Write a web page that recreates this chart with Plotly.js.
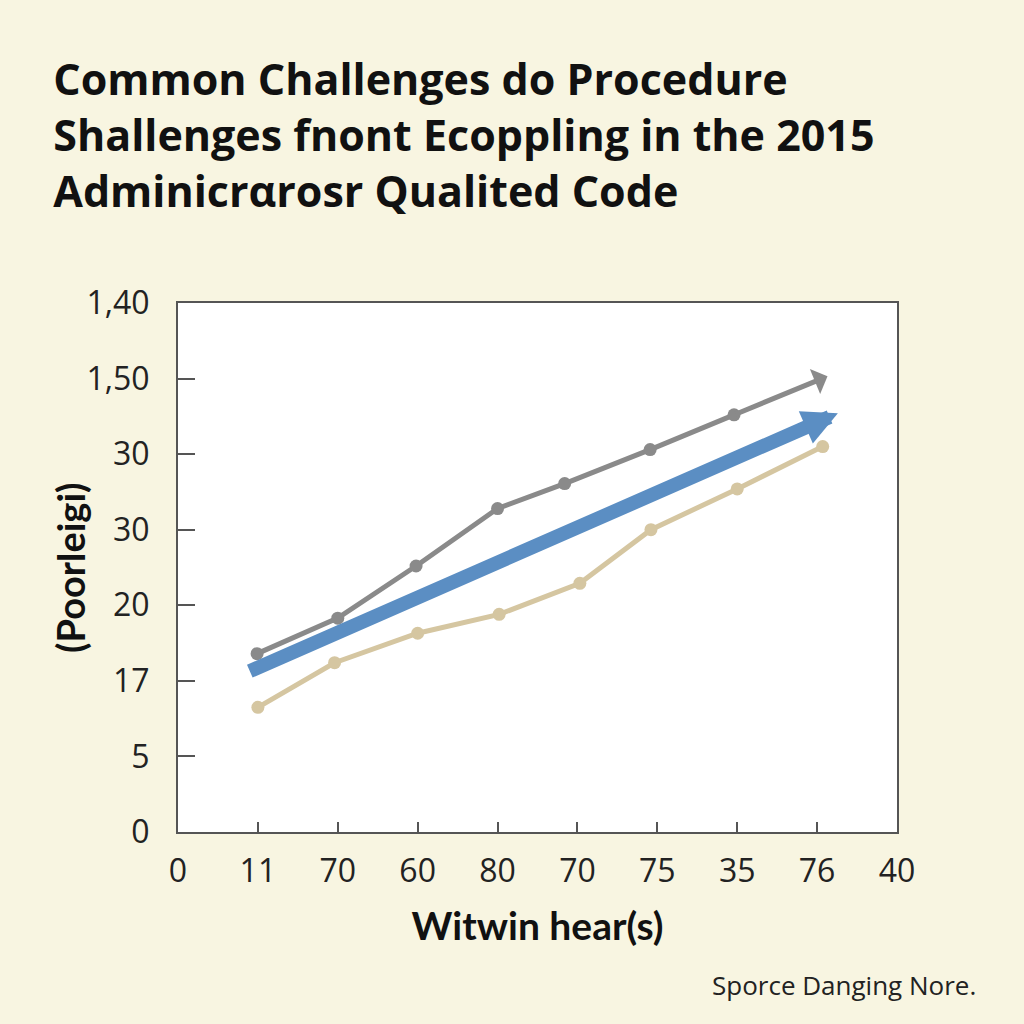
<!DOCTYPE html>
<html>
<head>
<meta charset="utf-8">
<script src="https://cdn.plot.ly/plotly-3.0.1.min.js"></script>
<style>
  html, body { margin: 0; padding: 0; background: #f8f5e1; }
  #plot { width: 1024px; height: 1024px; }
</style>
</head>
<body>
<div id="plot"></div>
<script>
// tick labels as printed on the chart
let xTickVals = [0, 1, 2, 3, 4, 5, 6, 7, 8, 9];
let xTickText = ["0", "11", "70", "60", "80", "70", "75", "35", "76", "40"];
let yTickVals = [0, 1, 2, 3, 4, 5, 6, 7];
let yTickText = ["0", "5", "17", "20", "30", "30", "1,50", "1,40"];

// gray series (ends in an arrow)
let grayX = [0.99, 2.0, 2.98, 4.0, 4.84, 5.91, 6.96];
let grayY = [2.36, 2.83, 3.52, 4.28, 4.61, 5.06, 5.52];
let grayArrowEnd = [8.13, 6.03];

// tan series
let tanX = [1.0, 1.96, 3.0, 4.02, 5.03, 5.92, 7.0, 8.07];
let tanY = [1.65, 2.24, 2.63, 2.88, 3.29, 4.0, 4.54, 5.1];

// blue trend arrow (start, end)
let blueX = [0.88, 8.26];
let blueY = [2.12, 5.54];

let grayColor = "#8a8a8a";
let tanColor = "#d5c6a1";
let blueColor = "#5b8ec3";

let grayTrace = {
    x: grayX,
    y: grayY,
    mode: "lines+markers",
    line: { color: grayColor, width: 5 },
    marker: { color: grayColor, size: 13 },
    hoverinfo: "skip"
};

let tanTrace = {
    x: tanX,
    y: tanY,
    mode: "lines+markers",
    line: { color: tanColor, width: 5 },
    marker: { color: tanColor, size: 13 },
    hoverinfo: "skip"
};

let data = [tanTrace, grayTrace];

let layout = {
    width: 1024,
    height: 1024,
    paper_bgcolor: "#f8f5e1",
    plot_bgcolor: "#ffffff",
    showlegend: false,
    margin: { l: 178, r: 127, t: 303, b: 192, pad: 0 },
    title: {
        text: "Common Challenges do Procedure<br>Shallenges fnont Ecoppling in the 2015<br>Adminicrαrosr Qualited Code",
        font: { family: "Open Sans", size: 43, color: "#111111", weight: 700 },
        xref: "container",
        yref: "container",
        x: 0.052,
        xanchor: "left",
        y: 0.907,
        yanchor: "middle"
    },
    xaxis: {
        range: [0, 9],
        tickmode: "array",
        tickvals: xTickVals,
        ticktext: xTickText,
        ticks: "inside",
        ticklen: 10,
        tickwidth: 2,
        tickcolor: "#555555",
        ticklabelstandoff: 10,
        tickfont: { family: "Open Sans", size: 32, color: "#222222" },
        showgrid: false,
        zeroline: false,
        showline: true,
        mirror: true,
        linecolor: "#555555",
        linewidth: 2,
        title: {
            text: "Witwin hear(s)",
            font: { family: "Lato", size: 39, color: "#111111", weight: 700 },
            standoff: 22
        }
    },
    yaxis: {
        range: [0, 7],
        tickmode: "array",
        tickvals: yTickVals,
        ticktext: yTickText,
        ticks: "inside",
        ticklen: 17,
        tickwidth: 2,
        tickcolor: "#555555",
        ticklabelstandoff: 20,
        tickfont: { family: "Open Sans", size: 32, color: "#222222" },
        showgrid: false,
        zeroline: false,
        showline: true,
        mirror: true,
        linecolor: "#555555",
        linewidth: 2
    },
    annotations: [
        {
            // y axis title
            text: "<b>(Poorleigi)</b>",
            xref: "paper", yref: "paper",
            x: -0.151, y: 0.5,
            xanchor: "center", yanchor: "middle",
            textangle: -90,
            showarrow: false,
            font: { family: "Lato", size: 38, color: "#111111" }
        },
        {
            // blue trend arrow
            x: blueX[1], y: blueY[1], xref: "x", yref: "y",
            ax: blueX[0], ay: blueY[0], axref: "x", ayref: "y",
            text: "", showarrow: true,
            arrowhead: 2, arrowsize: 0.5, arrowwidth: 14,
            arrowcolor: blueColor, standoff: 0, startstandoff: 0
        },
        {
            // gray series arrow
            x: grayArrowEnd[0], y: grayArrowEnd[1], xref: "x", yref: "y",
            ax: grayX[grayX.length - 1], ay: grayY[grayY.length - 1], axref: "x", ayref: "y",
            text: "", showarrow: true,
            arrowhead: 1, arrowsize: 0.9, arrowwidth: 5,
            arrowcolor: grayColor, standoff: 0, startstandoff: 0
        },
        {
            text: "Sporce Danging Nore.",
            xref: "paper", yref: "paper",
            x: 1.113, y: -0.289,
            xanchor: "right", yanchor: "middle",
            showarrow: false,
            font: { family: "Open Sans", size: 26, color: "#222222" }
        }
    ]
};

Plotly.newPlot("plot", data, layout, { staticPlot: true });
</script>
</body>
</html>
